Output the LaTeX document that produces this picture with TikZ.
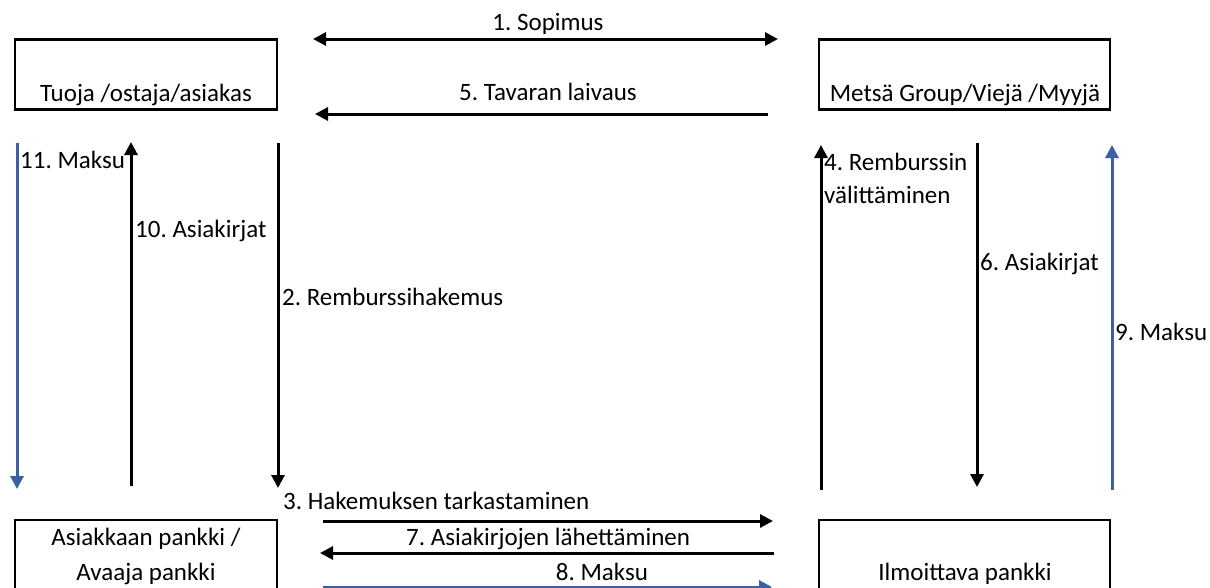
\documentclass[tikz,border=0pt]{standalone}
\usepackage{fontspec}
\setmainfont{Carlito}
\usetikzlibrary{arrows.meta}
\definecolor{flowblue}{RGB}{59,96,164}
\frenchspacing
\begin{document}
\begin{tikzpicture}[x=1pt,y=-1pt,
  party/.style={draw=black,line width=2.4pt,minimum width=262pt,minimum height=70pt,inner sep=0pt},
  flow/.style={line width=3pt,-{Triangle[length=13pt,width=13pt]}},
  twoway/.style={line width=3pt,{Triangle[length=13pt,width=13pt]}-{Triangle[length=13pt,width=13pt]}},
  bluefl/.style={flow,draw=flowblue,fill=flowblue},
  lbl/.style={anchor=base,inner sep=0pt,font=\fontsize{25}{30}\selectfont},
  lblw/.style={lbl,anchor=base west}
]
\clip (0,0) rectangle (1210,587);
\fill[white] (0,0) rectangle (1210,587);

% parties and banks
\node[party,minimum width=262pt] (buyer)  at (146,74.5) {};
\node[party,minimum width=291pt] (seller) at (964.5,74.5) {};
\node[party,minimum width=262pt,minimum height=100pt] (obank) at (146,570) {};
\node[party,minimum width=291pt,minimum height=100pt] (abank) at (964.5,570) {};

\node[lbl] (tbuyer)  at (146,101) {Tuoja /ostaja/asiakas};
\node[lbl] (tseller) at (965,101.5) {Metsä Group/Viejä /Myyjä};
\node[lbl] (tob1) at (146,545) {Asiakkaan pankki /};
\node[lbl] (tob2) at (146,580) {Avaaja pankki};
\node[lbl] (tab)  at (965,580) {Ilmoittava pankki};

% flow end points
\coordinate (s1a) at (313,39);   \coordinate (s1b) at (778,39);
\coordinate (s5a) at (768,114);  \coordinate (s5b) at (315,114);
\coordinate (s11a) at (17,143);  \coordinate (s11b) at (17,489);
\coordinate (s10a) at (131,486); \coordinate (s10b) at (131,142);
\coordinate (s2a) at (278,143);  \coordinate (s2b) at (278,488);
\coordinate (s4a) at (821,490);  \coordinate (s4b) at (821,145);
\coordinate (s6a) at (977,143);  \coordinate (s6b) at (977,487);
\coordinate (s9a) at (1112,490); \coordinate (s9b) at (1112,145);
\coordinate (s3a) at (323,521);  \coordinate (s3b) at (773,521);
\coordinate (s7a) at (774,553);  \coordinate (s7b) at (320,553);
\coordinate (s8a) at (323,587);  \coordinate (s8b) at (772,587);

% flows
\draw[twoway] (s1a) -- (s1b);
\draw[flow] (s5a) -- (s5b);
\draw[bluefl] (s11a) -- (s11b);
\draw[flow] (s10a) -- (s10b);
\draw[flow] (s2a) -- (s2b);
\draw[flow] (s4a) -- (s4b);
\draw[flow] (s6a) -- (s6b);
\draw[bluefl] (s9a) -- (s9b);
\draw[flow] (s3a) -- (s3b);
\draw[flow] (s7a) -- (s7b);
\draw[bluefl] (s8a) -- (s8b);

% flow labels
\node[lbl]  (l1)  at (548,30)  {1. Sopimus};
\node[lbl]  (l5)  at (548,100) {5. Tavaran laivaus};
\node[lblw] (l11) at (20,168)  {11. Maksu};
\node[lblw] (l10) at (135,237) {10. Asiakirjat};
\node[lblw] (l2)  at (282,305) {2. Remburssihakemus};
\node[lblw] (l4a) at (824,170) {4. Remburssin};
\node[lblw] (l4b) at (824,203) {välittäminen};
\node[lblw] (l6)  at (980,270) {6. Asiakirjat};
\node[lblw] (l9)  at (1115,340) {9. Maksu};
\node[lblw] (l3)  at (283,509) {3. Hakemuksen tarkastaminen};
\node[lblw] (l7)  at (406,545) {7. Asiakirjojen lähettäminen};
\node[lbl]  (l8)  at (602,580) {8. Maksu};
\end{tikzpicture}
\end{document}
